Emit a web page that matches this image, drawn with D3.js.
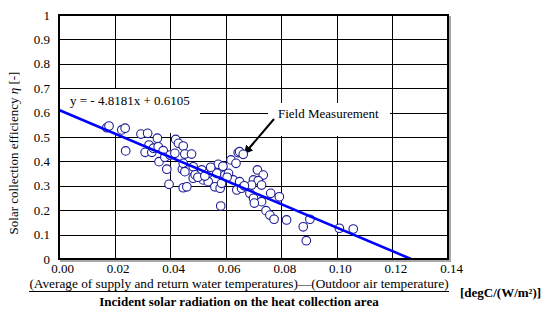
<!DOCTYPE html>
<html>
<head>
<meta charset="utf-8">
<script src="https://cdn.jsdelivr.net/npm/d3@7"></script>
<style>
  html, body { margin: 0; padding: 0; background: #fff; }
  svg { display: block; }
  svg text { font-family: "Liberation Serif", "Times New Roman", Times, "DejaVu Serif", serif; fill: #000; }
</style>
</head>
<body>
<svg id="chart" width="555" height="324"></svg>
<script>
// measured points: x = temperature difference / radiation, y = efficiency
var xValues = [0.0172, 0.0180, 0.0226, 0.0238, 0.0240, 0.0295, 0.0319, 0.0354, 0.0324, 0.0310,
               0.0334, 0.0340, 0.0357, 0.0375, 0.0360, 0.0381, 0.0400, 0.0388, 0.0420, 0.0430,
               0.0417, 0.0396, 0.0444, 0.0447, 0.0447, 0.0453, 0.0477, 0.0447, 0.0465, 0.0483,
               0.0453, 0.0483, 0.0514, 0.0519, 0.0537, 0.0550, 0.0573, 0.0568, 0.0537, 0.0561,
               0.0580, 0.0585, 0.0597, 0.0610, 0.0619, 0.0637, 0.0645, 0.0650, 0.0663, 0.0627,
               0.0650, 0.0640, 0.0657, 0.0687, 0.0714, 0.0700, 0.0735, 0.0717, 0.0693, 0.0729,
               0.0762, 0.0793, 0.0700, 0.0729, 0.0703, 0.0745, 0.0759, 0.0774, 0.0819, 0.0903,
               0.0879, 0.0890, 0.1009, 0.1059, 0.0582, 0.0546, 0.0460, 0.0490, 0.0500, 0.0525,
               0.0605, 0.0590, 0.0667];
var yValues = [0.538, 0.545, 0.529, 0.536, 0.443, 0.512, 0.515, 0.495, 0.467, 0.437,
               0.437, 0.454, 0.460, 0.444, 0.399, 0.417, 0.426, 0.368, 0.490, 0.474,
               0.433, 0.306, 0.368, 0.292, 0.463, 0.430, 0.430, 0.392, 0.365, 0.378,
               0.358, 0.331, 0.365, 0.324, 0.351, 0.365, 0.388, 0.351, 0.317, 0.296,
               0.290, 0.310, 0.344, 0.351, 0.406, 0.392, 0.436, 0.440, 0.429, 0.324,
               0.317, 0.283, 0.290, 0.269, 0.365, 0.324, 0.344, 0.321, 0.303, 0.303,
               0.269, 0.255, 0.249, 0.235, 0.229, 0.198, 0.180, 0.163, 0.160, 0.163,
               0.132, 0.075, 0.126, 0.123, 0.217, 0.376, 0.296, 0.345, 0.335, 0.340,
               0.335, 0.380, 0.300];

var fitSlope = -4.8181;
var fitIntercept = 0.6105;

var xTicks = [0, 0.02, 0.04, 0.06, 0.08, 0.10, 0.12, 0.14];
var yTicks = [0, 0.1, 0.2, 0.3, 0.4, 0.5, 0.6, 0.7, 0.8, 0.9, 1];

(function() {
    "use strict";

    var svg = d3.select("#chart");
    var plot = {left: 59, right: 448, top: 15, bottom: 259};

    var x = d3.scaleLinear().domain([0, 0.14]).range([plot.left, plot.right]);
    var y = d3.scaleLinear().domain([0, 1]).range([plot.bottom, plot.top]);

    // drop shadow of the plot frame
    svg.append("rect")
        .attr("x", plot.left + 2).attr("y", plot.top + 2)
        .attr("width", plot.right - plot.left).attr("height", plot.bottom - plot.top)
        .attr("fill", "none").attr("stroke", "#a8a8a8").attr("stroke-width", 2);

    svg.append("rect")
        .attr("x", plot.left).attr("y", plot.top)
        .attr("width", plot.right - plot.left).attr("height", plot.bottom - plot.top)
        .attr("fill", "#fff");

    // grid
    var grid = svg.append("g").attr("stroke", "#000").attr("stroke-width", 1).attr("shape-rendering", "crispEdges");
    grid.selectAll(".hg").data(yTicks.slice(1, -1)).enter().append("line")
        .attr("x1", plot.left).attr("x2", plot.right)
        .attr("y1", function(d) { return Math.round(y(d)) + 0.5; })
        .attr("y2", function(d) { return Math.round(y(d)) + 0.5; });
    grid.selectAll(".vg").data(xTicks.slice(1, -1)).enter().append("line")
        .attr("y1", plot.top).attr("y2", plot.bottom)
        .attr("x1", function(d) { return Math.round(x(d)) + 0.5; })
        .attr("x2", function(d) { return Math.round(x(d)) + 0.5; });

    // axes (labels only, no tick marks)
    var yAxis = svg.append("g")
        .attr("transform", "translate(" + plot.left + ",0)")
        .call(d3.axisLeft(y).tickValues(yTicks).tickSize(0).tickPadding(9)
            .tickFormat(function(d) { return (d === 0 || d === 1) ? d : d.toFixed(1); }));
    var xAxis = svg.append("g")
        .attr("transform", "translate(0," + plot.bottom + ")")
        .call(d3.axisBottom(x).tickValues(xTicks).tickSize(0).tickPadding(5)
            .tickFormat(d3.format(".2f")));
    [xAxis, yAxis].forEach(function(a) {
        a.attr("font-family", null).attr("font-size", null);
        a.select(".domain").remove();
        a.selectAll("text").attr("font-size", 13);
    });
    xAxis.selectAll("text").attr("dx", 3);

    // label boxes cover the grid, marks are drawn over them
    svg.append("rect").attr("x", 60).attr("y", 89).attr("width", 140).attr("height", 44).attr("fill", "#fff");
    svg.append("text").attr("x", 70).attr("y", 104.5).attr("font-size", 13).text("y = - 4.8181x + 0.6105");

    svg.append("rect").attr("x", 268).attr("y", 106).attr("width", 122).attr("height", 30).attr("fill", "#fff");
    svg.append("rect").attr("x", 272).attr("y", 103).attr("width", 114).attr("height", 4).attr("fill", "#fff");
    svg.append("text").attr("x", 278).attr("y", 117.5).attr("font-size", 13).text("Field Measurement");

    svg.append("defs").append("marker")
        .attr("id", "head").attr("viewBox", "0 0 10 10").attr("refX", 8).attr("refY", 5)
        .attr("markerWidth", 4.5).attr("markerHeight", 4.5).attr("orient", "auto")
        .append("path").attr("d", "M0,0 L10,5 L0,10 Z").attr("fill", "#000");
    svg.append("line")
        .attr("x1", 274).attr("y1", 119).attr("x2", 245).attr("y2", 153)
        .attr("stroke", "#000").attr("stroke-width", 2).attr("marker-end", "url(#head)");

    // points
    var pts = xValues.map(function(v, i) { return {x: v, y: yValues[i]}; });
    svg.append("g").selectAll("circle").data(pts).enter().append("circle")
        .attr("cx", function(d) { return x(d.x); })
        .attr("cy", function(d) { return y(d.y); })
        .attr("r", 4.3)
        .attr("fill", "#fff")
        .attr("stroke", "#1c1c96")
        .attr("stroke-width", 1.1);

    // regression line
    var xEnd = -fitIntercept / fitSlope;
    svg.append("path")
        .datum([0, xEnd])
        .attr("fill", "none").attr("stroke", "#0000ff").attr("stroke-width", 2.6)
        .attr("d", d3.line()
            .x(function(d) { return x(d); })
            .y(function(d) { return y(fitSlope * d + fitIntercept); }));

    // frame
    svg.append("rect")
        .attr("x", plot.left).attr("y", plot.top)
        .attr("width", plot.right - plot.left).attr("height", plot.bottom - plot.top)
        .attr("fill", "none").attr("stroke", "#000").attr("stroke-width", 2);

    // y title
    svg.append("text")
        .attr("transform", "translate(18,153) rotate(-90)")
        .attr("text-anchor", "middle").attr("font-size", 13)
        .html('Solar collection efficiency <tspan font-style="italic">η</tspan> [-]');

    // x title as a fraction
    svg.append("text")
        .attr("x", 239).attr("y", 288).attr("text-anchor", "middle").attr("font-size", 13.3)
        .text("(Average of supply and return water temperatures)\u2014(Outdoor air temperature)");
    svg.append("line")
        .attr("x1", 29).attr("x2", 449).attr("y1", 291.5).attr("y2", 291.5)
        .attr("stroke", "#000").attr("stroke-width", 1);
    svg.append("text")
        .attr("x", 239).attr("y", 306).attr("text-anchor", "middle").attr("font-size", 13)
        .attr("font-weight", "bold")
        .text("Incident solar radiation on the heat collection area");
    svg.append("text")
        .attr("x", 460).attr("y", 297).attr("font-size", 13).attr("font-weight", "bold")
        .text("[degC/(W/m\u00b2)]");
}());
</script>
</body>
</html>
